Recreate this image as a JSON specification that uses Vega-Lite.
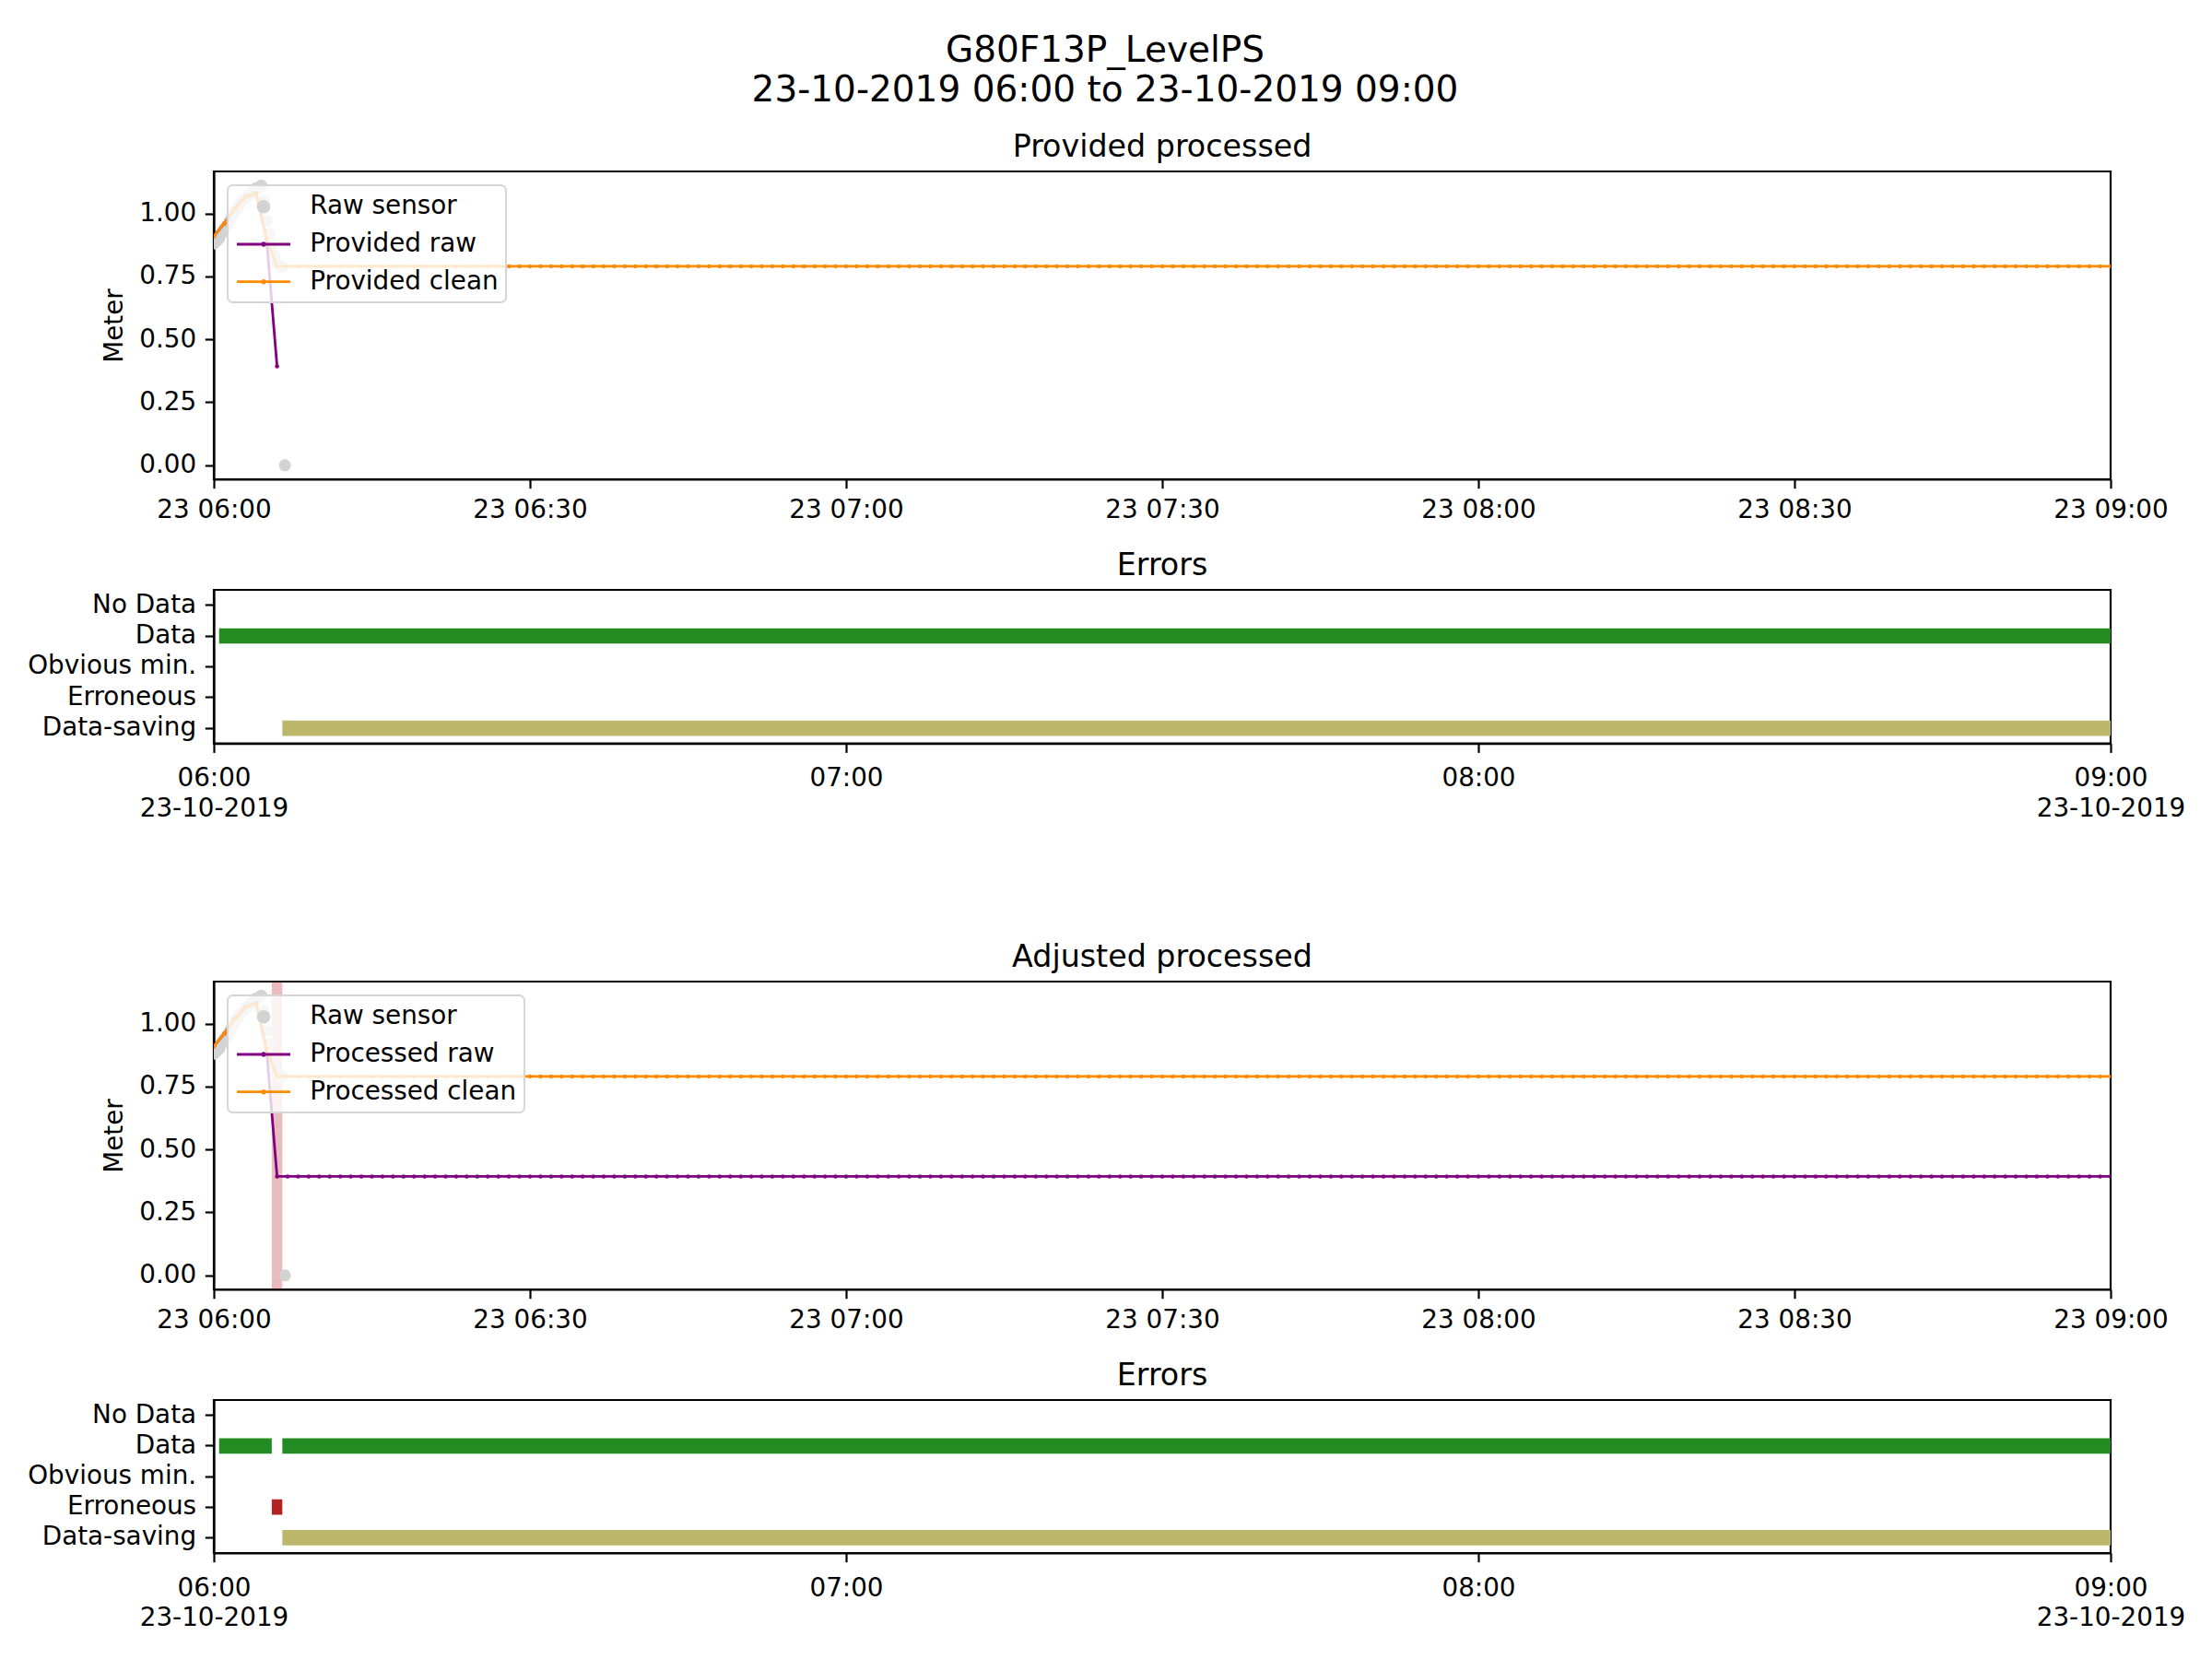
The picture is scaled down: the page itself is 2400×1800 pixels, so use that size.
{
"$schema": "https://vega.github.io/schema/vega-lite/v6.json",
"background": "white",
"padding": {"left": 28, "top": 36, "right": 30, "bottom": 20},
"bounds": "flush",
"spacing": 120,
"title": {"text": ["G80F13P_LevelPS", "23-10-2019 06:00 to 23-10-2019 09:00"], "fontSize": 39, "fontWeight": "normal", "lineHeight": 42.8, "anchor": "middle", "frame": "group", "baseline": "alphabetic", "offset": -7.6, "dx": -62, "color": "black"},
"resolve": {"scale": {"x": "independent", "y": "independent", "color": "independent", "shape": "independent"}, "legend": {"color": "independent", "shape": "independent"}},
"datasets": {
"legend_keys": [],
"raw_sensor": [
{"t":"2019-10-23T06:00:00","v":0.88},{"t":"2019-10-23T06:00:15","v":0.89},{"t":"2019-10-23T06:00:30","v":0.9},{"t":"2019-10-23T06:00:45","v":0.92},
{"t":"2019-10-23T06:01:00","v":0.94},{"t":"2019-10-23T06:01:15","v":0.95},{"t":"2019-10-23T06:01:30","v":0.97},{"t":"2019-10-23T06:01:45","v":0.99},
{"t":"2019-10-23T06:02:00","v":1.01},{"t":"2019-10-23T06:02:15","v":1.02},{"t":"2019-10-23T06:02:30","v":1.04},{"t":"2019-10-23T06:02:45","v":1.05},
{"t":"2019-10-23T06:03:00","v":1.06},{"t":"2019-10-23T06:03:15","v":1.07},{"t":"2019-10-23T06:03:30","v":1.08},{"t":"2019-10-23T06:03:45","v":1.09},
{"t":"2019-10-23T06:04:00","v":1.1},{"t":"2019-10-23T06:04:15","v":1.1},{"t":"2019-10-23T06:04:30","v":1.111},{"t":"2019-10-23T06:04:45","v":1.05},
{"t":"2019-10-23T06:05:00","v":0.97},{"t":"2019-10-23T06:05:15","v":0.92},{"t":"2019-10-23T06:05:30","v":0.87},{"t":"2019-10-23T06:05:45","v":0.83},
{"t":"2019-10-23T06:06:00","v":0.8},{"t":"2019-10-23T06:06:15","v":0.79},{"t":"2019-10-23T06:06:30","v":0.79},{"t":"2019-10-23T06:06:45","v":0.0}
],
"provided_raw": [
{"t":"2019-10-23T06:00","v":0.91},{"t":"2019-10-23T06:01","v":0.96},{"t":"2019-10-23T06:02","v":1.02},{"t":"2019-10-23T06:03","v":1.065},{"t":"2019-10-23T06:04","v":1.08},{"t":"2019-10-23T06:05","v":0.9},{"t":"2019-10-23T06:06","v":0.393}
],
"clean": [
{"t":"2019-10-23T06:00","v":0.91},{"t":"2019-10-23T06:01","v":0.96},{"t":"2019-10-23T06:02","v":1.02},{"t":"2019-10-23T06:03","v":1.065},{"t":"2019-10-23T06:04","v":1.08},{"t":"2019-10-23T06:05","v":0.9},
{"t":"2019-10-23T06:06","v":0.79},{"t":"2019-10-23T06:07","v":0.79},{"t":"2019-10-23T06:08","v":0.79},{"t":"2019-10-23T06:09","v":0.79},
{"t":"2019-10-23T06:10","v":0.79},{"t":"2019-10-23T06:11","v":0.79},{"t":"2019-10-23T06:12","v":0.79},{"t":"2019-10-23T06:13","v":0.79},{"t":"2019-10-23T06:14","v":0.79},{"t":"2019-10-23T06:15","v":0.79},{"t":"2019-10-23T06:16","v":0.79},{"t":"2019-10-23T06:17","v":0.79},{"t":"2019-10-23T06:18","v":0.79},{"t":"2019-10-23T06:19","v":0.79},
{"t":"2019-10-23T06:20","v":0.79},{"t":"2019-10-23T06:21","v":0.79},{"t":"2019-10-23T06:22","v":0.79},{"t":"2019-10-23T06:23","v":0.79},{"t":"2019-10-23T06:24","v":0.79},{"t":"2019-10-23T06:25","v":0.79},{"t":"2019-10-23T06:26","v":0.79},{"t":"2019-10-23T06:27","v":0.79},{"t":"2019-10-23T06:28","v":0.79},{"t":"2019-10-23T06:29","v":0.79},
{"t":"2019-10-23T06:30","v":0.79},{"t":"2019-10-23T06:31","v":0.79},{"t":"2019-10-23T06:32","v":0.79},{"t":"2019-10-23T06:33","v":0.79},{"t":"2019-10-23T06:34","v":0.79},{"t":"2019-10-23T06:35","v":0.79},{"t":"2019-10-23T06:36","v":0.79},{"t":"2019-10-23T06:37","v":0.79},{"t":"2019-10-23T06:38","v":0.79},{"t":"2019-10-23T06:39","v":0.79},
{"t":"2019-10-23T06:40","v":0.79},{"t":"2019-10-23T06:41","v":0.79},{"t":"2019-10-23T06:42","v":0.79},{"t":"2019-10-23T06:43","v":0.79},{"t":"2019-10-23T06:44","v":0.79},{"t":"2019-10-23T06:45","v":0.79},{"t":"2019-10-23T06:46","v":0.79},{"t":"2019-10-23T06:47","v":0.79},{"t":"2019-10-23T06:48","v":0.79},{"t":"2019-10-23T06:49","v":0.79},
{"t":"2019-10-23T06:50","v":0.79},{"t":"2019-10-23T06:51","v":0.79},{"t":"2019-10-23T06:52","v":0.79},{"t":"2019-10-23T06:53","v":0.79},{"t":"2019-10-23T06:54","v":0.79},{"t":"2019-10-23T06:55","v":0.79},{"t":"2019-10-23T06:56","v":0.79},{"t":"2019-10-23T06:57","v":0.79},{"t":"2019-10-23T06:58","v":0.79},{"t":"2019-10-23T06:59","v":0.79},
{"t":"2019-10-23T07:00","v":0.79},{"t":"2019-10-23T07:01","v":0.79},{"t":"2019-10-23T07:02","v":0.79},{"t":"2019-10-23T07:03","v":0.79},{"t":"2019-10-23T07:04","v":0.79},{"t":"2019-10-23T07:05","v":0.79},{"t":"2019-10-23T07:06","v":0.79},{"t":"2019-10-23T07:07","v":0.79},{"t":"2019-10-23T07:08","v":0.79},{"t":"2019-10-23T07:09","v":0.79},
{"t":"2019-10-23T07:10","v":0.79},{"t":"2019-10-23T07:11","v":0.79},{"t":"2019-10-23T07:12","v":0.79},{"t":"2019-10-23T07:13","v":0.79},{"t":"2019-10-23T07:14","v":0.79},{"t":"2019-10-23T07:15","v":0.79},{"t":"2019-10-23T07:16","v":0.79},{"t":"2019-10-23T07:17","v":0.79},{"t":"2019-10-23T07:18","v":0.79},{"t":"2019-10-23T07:19","v":0.79},
{"t":"2019-10-23T07:20","v":0.79},{"t":"2019-10-23T07:21","v":0.79},{"t":"2019-10-23T07:22","v":0.79},{"t":"2019-10-23T07:23","v":0.79},{"t":"2019-10-23T07:24","v":0.79},{"t":"2019-10-23T07:25","v":0.79},{"t":"2019-10-23T07:26","v":0.79},{"t":"2019-10-23T07:27","v":0.79},{"t":"2019-10-23T07:28","v":0.79},{"t":"2019-10-23T07:29","v":0.79},
{"t":"2019-10-23T07:30","v":0.79},{"t":"2019-10-23T07:31","v":0.79},{"t":"2019-10-23T07:32","v":0.79},{"t":"2019-10-23T07:33","v":0.79},{"t":"2019-10-23T07:34","v":0.79},{"t":"2019-10-23T07:35","v":0.79},{"t":"2019-10-23T07:36","v":0.79},{"t":"2019-10-23T07:37","v":0.79},{"t":"2019-10-23T07:38","v":0.79},{"t":"2019-10-23T07:39","v":0.79},
{"t":"2019-10-23T07:40","v":0.79},{"t":"2019-10-23T07:41","v":0.79},{"t":"2019-10-23T07:42","v":0.79},{"t":"2019-10-23T07:43","v":0.79},{"t":"2019-10-23T07:44","v":0.79},{"t":"2019-10-23T07:45","v":0.79},{"t":"2019-10-23T07:46","v":0.79},{"t":"2019-10-23T07:47","v":0.79},{"t":"2019-10-23T07:48","v":0.79},{"t":"2019-10-23T07:49","v":0.79},
{"t":"2019-10-23T07:50","v":0.79},{"t":"2019-10-23T07:51","v":0.79},{"t":"2019-10-23T07:52","v":0.79},{"t":"2019-10-23T07:53","v":0.79},{"t":"2019-10-23T07:54","v":0.79},{"t":"2019-10-23T07:55","v":0.79},{"t":"2019-10-23T07:56","v":0.79},{"t":"2019-10-23T07:57","v":0.79},{"t":"2019-10-23T07:58","v":0.79},{"t":"2019-10-23T07:59","v":0.79},
{"t":"2019-10-23T08:00","v":0.79},{"t":"2019-10-23T08:01","v":0.79},{"t":"2019-10-23T08:02","v":0.79},{"t":"2019-10-23T08:03","v":0.79},{"t":"2019-10-23T08:04","v":0.79},{"t":"2019-10-23T08:05","v":0.79},{"t":"2019-10-23T08:06","v":0.79},{"t":"2019-10-23T08:07","v":0.79},{"t":"2019-10-23T08:08","v":0.79},{"t":"2019-10-23T08:09","v":0.79},
{"t":"2019-10-23T08:10","v":0.79},{"t":"2019-10-23T08:11","v":0.79},{"t":"2019-10-23T08:12","v":0.79},{"t":"2019-10-23T08:13","v":0.79},{"t":"2019-10-23T08:14","v":0.79},{"t":"2019-10-23T08:15","v":0.79},{"t":"2019-10-23T08:16","v":0.79},{"t":"2019-10-23T08:17","v":0.79},{"t":"2019-10-23T08:18","v":0.79},{"t":"2019-10-23T08:19","v":0.79},
{"t":"2019-10-23T08:20","v":0.79},{"t":"2019-10-23T08:21","v":0.79},{"t":"2019-10-23T08:22","v":0.79},{"t":"2019-10-23T08:23","v":0.79},{"t":"2019-10-23T08:24","v":0.79},{"t":"2019-10-23T08:25","v":0.79},{"t":"2019-10-23T08:26","v":0.79},{"t":"2019-10-23T08:27","v":0.79},{"t":"2019-10-23T08:28","v":0.79},{"t":"2019-10-23T08:29","v":0.79},
{"t":"2019-10-23T08:30","v":0.79},{"t":"2019-10-23T08:31","v":0.79},{"t":"2019-10-23T08:32","v":0.79},{"t":"2019-10-23T08:33","v":0.79},{"t":"2019-10-23T08:34","v":0.79},{"t":"2019-10-23T08:35","v":0.79},{"t":"2019-10-23T08:36","v":0.79},{"t":"2019-10-23T08:37","v":0.79},{"t":"2019-10-23T08:38","v":0.79},{"t":"2019-10-23T08:39","v":0.79},
{"t":"2019-10-23T08:40","v":0.79},{"t":"2019-10-23T08:41","v":0.79},{"t":"2019-10-23T08:42","v":0.79},{"t":"2019-10-23T08:43","v":0.79},{"t":"2019-10-23T08:44","v":0.79},{"t":"2019-10-23T08:45","v":0.79},{"t":"2019-10-23T08:46","v":0.79},{"t":"2019-10-23T08:47","v":0.79},{"t":"2019-10-23T08:48","v":0.79},{"t":"2019-10-23T08:49","v":0.79},
{"t":"2019-10-23T08:50","v":0.79},{"t":"2019-10-23T08:51","v":0.79},{"t":"2019-10-23T08:52","v":0.79},{"t":"2019-10-23T08:53","v":0.79},{"t":"2019-10-23T08:54","v":0.79},{"t":"2019-10-23T08:55","v":0.79},{"t":"2019-10-23T08:56","v":0.79},{"t":"2019-10-23T08:57","v":0.79},{"t":"2019-10-23T08:58","v":0.79},{"t":"2019-10-23T08:59","v":0.79},
{"t":"2019-10-23T09:00","v":0.79}
],
"processed_raw": [
{"t":"2019-10-23T06:00","v":0.91},{"t":"2019-10-23T06:01","v":0.96},{"t":"2019-10-23T06:02","v":1.02},{"t":"2019-10-23T06:03","v":1.065},{"t":"2019-10-23T06:04","v":1.08},{"t":"2019-10-23T06:05","v":0.9},
{"t":"2019-10-23T06:06","v":0.393},{"t":"2019-10-23T06:07","v":0.393},{"t":"2019-10-23T06:08","v":0.393},{"t":"2019-10-23T06:09","v":0.393},
{"t":"2019-10-23T06:10","v":0.393},{"t":"2019-10-23T06:11","v":0.393},{"t":"2019-10-23T06:12","v":0.393},{"t":"2019-10-23T06:13","v":0.393},{"t":"2019-10-23T06:14","v":0.393},{"t":"2019-10-23T06:15","v":0.393},{"t":"2019-10-23T06:16","v":0.393},{"t":"2019-10-23T06:17","v":0.393},{"t":"2019-10-23T06:18","v":0.393},{"t":"2019-10-23T06:19","v":0.393},
{"t":"2019-10-23T06:20","v":0.393},{"t":"2019-10-23T06:21","v":0.393},{"t":"2019-10-23T06:22","v":0.393},{"t":"2019-10-23T06:23","v":0.393},{"t":"2019-10-23T06:24","v":0.393},{"t":"2019-10-23T06:25","v":0.393},{"t":"2019-10-23T06:26","v":0.393},{"t":"2019-10-23T06:27","v":0.393},{"t":"2019-10-23T06:28","v":0.393},{"t":"2019-10-23T06:29","v":0.393},
{"t":"2019-10-23T06:30","v":0.393},{"t":"2019-10-23T06:31","v":0.393},{"t":"2019-10-23T06:32","v":0.393},{"t":"2019-10-23T06:33","v":0.393},{"t":"2019-10-23T06:34","v":0.393},{"t":"2019-10-23T06:35","v":0.393},{"t":"2019-10-23T06:36","v":0.393},{"t":"2019-10-23T06:37","v":0.393},{"t":"2019-10-23T06:38","v":0.393},{"t":"2019-10-23T06:39","v":0.393},
{"t":"2019-10-23T06:40","v":0.393},{"t":"2019-10-23T06:41","v":0.393},{"t":"2019-10-23T06:42","v":0.393},{"t":"2019-10-23T06:43","v":0.393},{"t":"2019-10-23T06:44","v":0.393},{"t":"2019-10-23T06:45","v":0.393},{"t":"2019-10-23T06:46","v":0.393},{"t":"2019-10-23T06:47","v":0.393},{"t":"2019-10-23T06:48","v":0.393},{"t":"2019-10-23T06:49","v":0.393},
{"t":"2019-10-23T06:50","v":0.393},{"t":"2019-10-23T06:51","v":0.393},{"t":"2019-10-23T06:52","v":0.393},{"t":"2019-10-23T06:53","v":0.393},{"t":"2019-10-23T06:54","v":0.393},{"t":"2019-10-23T06:55","v":0.393},{"t":"2019-10-23T06:56","v":0.393},{"t":"2019-10-23T06:57","v":0.393},{"t":"2019-10-23T06:58","v":0.393},{"t":"2019-10-23T06:59","v":0.393},
{"t":"2019-10-23T07:00","v":0.393},{"t":"2019-10-23T07:01","v":0.393},{"t":"2019-10-23T07:02","v":0.393},{"t":"2019-10-23T07:03","v":0.393},{"t":"2019-10-23T07:04","v":0.393},{"t":"2019-10-23T07:05","v":0.393},{"t":"2019-10-23T07:06","v":0.393},{"t":"2019-10-23T07:07","v":0.393},{"t":"2019-10-23T07:08","v":0.393},{"t":"2019-10-23T07:09","v":0.393},
{"t":"2019-10-23T07:10","v":0.393},{"t":"2019-10-23T07:11","v":0.393},{"t":"2019-10-23T07:12","v":0.393},{"t":"2019-10-23T07:13","v":0.393},{"t":"2019-10-23T07:14","v":0.393},{"t":"2019-10-23T07:15","v":0.393},{"t":"2019-10-23T07:16","v":0.393},{"t":"2019-10-23T07:17","v":0.393},{"t":"2019-10-23T07:18","v":0.393},{"t":"2019-10-23T07:19","v":0.393},
{"t":"2019-10-23T07:20","v":0.393},{"t":"2019-10-23T07:21","v":0.393},{"t":"2019-10-23T07:22","v":0.393},{"t":"2019-10-23T07:23","v":0.393},{"t":"2019-10-23T07:24","v":0.393},{"t":"2019-10-23T07:25","v":0.393},{"t":"2019-10-23T07:26","v":0.393},{"t":"2019-10-23T07:27","v":0.393},{"t":"2019-10-23T07:28","v":0.393},{"t":"2019-10-23T07:29","v":0.393},
{"t":"2019-10-23T07:30","v":0.393},{"t":"2019-10-23T07:31","v":0.393},{"t":"2019-10-23T07:32","v":0.393},{"t":"2019-10-23T07:33","v":0.393},{"t":"2019-10-23T07:34","v":0.393},{"t":"2019-10-23T07:35","v":0.393},{"t":"2019-10-23T07:36","v":0.393},{"t":"2019-10-23T07:37","v":0.393},{"t":"2019-10-23T07:38","v":0.393},{"t":"2019-10-23T07:39","v":0.393},
{"t":"2019-10-23T07:40","v":0.393},{"t":"2019-10-23T07:41","v":0.393},{"t":"2019-10-23T07:42","v":0.393},{"t":"2019-10-23T07:43","v":0.393},{"t":"2019-10-23T07:44","v":0.393},{"t":"2019-10-23T07:45","v":0.393},{"t":"2019-10-23T07:46","v":0.393},{"t":"2019-10-23T07:47","v":0.393},{"t":"2019-10-23T07:48","v":0.393},{"t":"2019-10-23T07:49","v":0.393},
{"t":"2019-10-23T07:50","v":0.393},{"t":"2019-10-23T07:51","v":0.393},{"t":"2019-10-23T07:52","v":0.393},{"t":"2019-10-23T07:53","v":0.393},{"t":"2019-10-23T07:54","v":0.393},{"t":"2019-10-23T07:55","v":0.393},{"t":"2019-10-23T07:56","v":0.393},{"t":"2019-10-23T07:57","v":0.393},{"t":"2019-10-23T07:58","v":0.393},{"t":"2019-10-23T07:59","v":0.393},
{"t":"2019-10-23T08:00","v":0.393},{"t":"2019-10-23T08:01","v":0.393},{"t":"2019-10-23T08:02","v":0.393},{"t":"2019-10-23T08:03","v":0.393},{"t":"2019-10-23T08:04","v":0.393},{"t":"2019-10-23T08:05","v":0.393},{"t":"2019-10-23T08:06","v":0.393},{"t":"2019-10-23T08:07","v":0.393},{"t":"2019-10-23T08:08","v":0.393},{"t":"2019-10-23T08:09","v":0.393},
{"t":"2019-10-23T08:10","v":0.393},{"t":"2019-10-23T08:11","v":0.393},{"t":"2019-10-23T08:12","v":0.393},{"t":"2019-10-23T08:13","v":0.393},{"t":"2019-10-23T08:14","v":0.393},{"t":"2019-10-23T08:15","v":0.393},{"t":"2019-10-23T08:16","v":0.393},{"t":"2019-10-23T08:17","v":0.393},{"t":"2019-10-23T08:18","v":0.393},{"t":"2019-10-23T08:19","v":0.393},
{"t":"2019-10-23T08:20","v":0.393},{"t":"2019-10-23T08:21","v":0.393},{"t":"2019-10-23T08:22","v":0.393},{"t":"2019-10-23T08:23","v":0.393},{"t":"2019-10-23T08:24","v":0.393},{"t":"2019-10-23T08:25","v":0.393},{"t":"2019-10-23T08:26","v":0.393},{"t":"2019-10-23T08:27","v":0.393},{"t":"2019-10-23T08:28","v":0.393},{"t":"2019-10-23T08:29","v":0.393},
{"t":"2019-10-23T08:30","v":0.393},{"t":"2019-10-23T08:31","v":0.393},{"t":"2019-10-23T08:32","v":0.393},{"t":"2019-10-23T08:33","v":0.393},{"t":"2019-10-23T08:34","v":0.393},{"t":"2019-10-23T08:35","v":0.393},{"t":"2019-10-23T08:36","v":0.393},{"t":"2019-10-23T08:37","v":0.393},{"t":"2019-10-23T08:38","v":0.393},{"t":"2019-10-23T08:39","v":0.393},
{"t":"2019-10-23T08:40","v":0.393},{"t":"2019-10-23T08:41","v":0.393},{"t":"2019-10-23T08:42","v":0.393},{"t":"2019-10-23T08:43","v":0.393},{"t":"2019-10-23T08:44","v":0.393},{"t":"2019-10-23T08:45","v":0.393},{"t":"2019-10-23T08:46","v":0.393},{"t":"2019-10-23T08:47","v":0.393},{"t":"2019-10-23T08:48","v":0.393},{"t":"2019-10-23T08:49","v":0.393},
{"t":"2019-10-23T08:50","v":0.393},{"t":"2019-10-23T08:51","v":0.393},{"t":"2019-10-23T08:52","v":0.393},{"t":"2019-10-23T08:53","v":0.393},{"t":"2019-10-23T08:54","v":0.393},{"t":"2019-10-23T08:55","v":0.393},{"t":"2019-10-23T08:56","v":0.393},{"t":"2019-10-23T08:57","v":0.393},{"t":"2019-10-23T08:58","v":0.393},{"t":"2019-10-23T08:59","v":0.393},
{"t":"2019-10-23T09:00","v":0.393}
],
"errors_provided": [
{"start":"2019-10-23T06:00:30","end":"2019-10-23T09:00:00","flag":"Data"},
{"start":"2019-10-23T06:06:30","end":"2019-10-23T09:00:00","flag":"Data-saving"}
],
"errors_adjusted": [
{"start":"2019-10-23T06:00:30","end":"2019-10-23T06:05:30","flag":"Data"},
{"start":"2019-10-23T06:05:30","end":"2019-10-23T06:06:30","flag":"Erroneous"},
{"start":"2019-10-23T06:06:30","end":"2019-10-23T09:00:00","flag":"Data"},
{"start":"2019-10-23T06:06:30","end":"2019-10-23T09:00:00","flag":"Data-saving"}
],
"span": [
{"start":"2019-10-23T06:05:30","end":"2019-10-23T06:06:30"}
]
},
"vconcat": [
{
"width": 2058, "height": 334,
"title": {"text": "Provided processed"},
"layer": [
{"data": {"name": "raw_sensor"},
 "mark": {"type": "point", "filled": true, "size": 170, "opacity": 1, "clip": true},
 "encoding": {
  "x": {"field": "t", "type": "temporal", "scale": {"domain": [{"year":2019,"month":10,"date":23,"hours":6},{"year":2019,"month":10,"date":23,"hours":9}], "nice": false},
        "axis": {"title": null, "values": [{"year":2019,"month":10,"date":23,"hours":6},{"year":2019,"month":10,"date":23,"hours":6,"minutes":30},{"year":2019,"month":10,"date":23,"hours":7},{"year":2019,"month":10,"date":23,"hours":7,"minutes":30},{"year":2019,"month":10,"date":23,"hours":8},{"year":2019,"month":10,"date":23,"hours":8,"minutes":30},{"year":2019,"month":10,"date":23,"hours":9}],
                 "labelExpr": "timeFormat(datum.value, '%d %H:%M')", "labelFlush": false, "labelOverlap": false}},
  "y": {"field": "v", "type": "quantitative", "scale": {"domain": [-0.0556, 1.1667], "nice": false, "zero": false},
        "axis": {"title": "Meter", "values": [0, 0.25, 0.5, 0.75, 1.0], "format": ".2f", "titlePadding": 12}},
  "color": {"datum": "Raw sensor", "type": "nominal",
            "scale": {"domain": ["Raw sensor", "Provided raw", "Provided clean"], "range": ["#d3d3d3", "#800080", "#ff8c00"]},
            "legend": {"title": null, "orient": "top-left", "offset": 15, "padding": 8.3}}
 }},
{"data": {"name": "provided_raw"},
 "mark": {"type": "line", "strokeWidth": 2.8, "clip": true, "point": {"filled": true, "size": 20, "clip": true}},
 "encoding": {"x": {"field": "t", "type": "temporal"}, "y": {"field": "v", "type": "quantitative"}, "color": {"datum": "Provided raw", "type": "nominal"}}},
{"data": {"name": "clean"},
 "mark": {"type": "line", "strokeWidth": 2.8, "clip": true, "point": {"filled": true, "size": 20, "clip": true}},
 "encoding": {"x": {"field": "t", "type": "temporal"}, "y": {"field": "v", "type": "quantitative"}, "color": {"datum": "Provided clean", "type": "nominal"}}},
{"data": {"name": "legend_keys"},
 "mark": {"type": "point", "filled": true},
 "encoding": {
  "color": {"datum": "Raw sensor", "type": "nominal"},
  "shape": {"datum": "Raw sensor", "type": "nominal",
            "scale": {"domain": ["Raw sensor", "Provided raw", "Provided clean"],
                      "range": ["M1.534,0A0.487,0.487,0,1,1,0.56,0A0.487,0.487,0,1,1,1.534,0Z", "M-0.887,-0.093H2.98V0.093H-0.887ZM1.227,0A0.18,0.18,0,1,1,0.867,0A0.18,0.18,0,1,1,1.227,0Z", "M-0.887,-0.093H2.98V0.093H-0.887ZM1.227,0A0.18,0.18,0,1,1,0.867,0A0.18,0.18,0,1,1,1.227,0Z"]},
            "legend": {"title": null, "orient": "top-left", "offset": 15, "padding": 8.3}}
 }}
]
},
{
"width": 2058, "height": 166.7,
"title": {"text": "Errors"},
"data": {"name": "errors_provided"},
"mark": {"type": "bar", "height": 16.7},
"encoding": {
 "x": {"field": "start", "type": "temporal", "scale": {"domain": [{"year":2019,"month":10,"date":23,"hours":6},{"year":2019,"month":10,"date":23,"hours":9}], "nice": false},
       "axis": {"title": null, "values": [{"year":2019,"month":10,"date":23,"hours":6},{"year":2019,"month":10,"date":23,"hours":7},{"year":2019,"month":10,"date":23,"hours":8},{"year":2019,"month":10,"date":23,"hours":9}],
                "labelExpr": "hours(datum.value) == 6 || hours(datum.value) == 9 ? [timeFormat(datum.value, '%H:%M'), timeFormat(datum.value, '%d-%m-%Y')] : timeFormat(datum.value, '%H:%M')",
                "labelLineHeight": 32.5, "labelPadding": 14.3, "labelFlush": false, "labelOverlap": false}},
 "x2": {"field": "end"},
 "y": {"field": "flag", "type": "nominal", "scale": {"domain": ["No Data", "Data", "Obvious min.", "Erroneous", "Data-saving"], "paddingInner": 0, "paddingOuter": 0}, "axis": {"title": null}},
 "color": {"field": "flag", "type": "nominal", "scale": {"domain": ["Data", "Erroneous", "Data-saving"], "range": ["#228b22", "#b22222", "#bdb76b"]}, "legend": null}
}
},
{
"width": 2058, "height": 18,
"view": {"stroke": null},
"data": {"values": []},
"mark": "point"
},
{
"width": 2058, "height": 334,
"title": {"text": "Adjusted processed"},
"layer": [
{"data": {"name": "span"},
 "mark": {"type": "rect", "color": "#b22222", "opacity": 0.3},
 "encoding": {
  "x": {"field": "start", "type": "temporal", "scale": {"domain": [{"year":2019,"month":10,"date":23,"hours":6},{"year":2019,"month":10,"date":23,"hours":9}], "nice": false},
        "axis": {"title": null, "values": [{"year":2019,"month":10,"date":23,"hours":6},{"year":2019,"month":10,"date":23,"hours":6,"minutes":30},{"year":2019,"month":10,"date":23,"hours":7},{"year":2019,"month":10,"date":23,"hours":7,"minutes":30},{"year":2019,"month":10,"date":23,"hours":8},{"year":2019,"month":10,"date":23,"hours":8,"minutes":30},{"year":2019,"month":10,"date":23,"hours":9}],
                 "labelExpr": "timeFormat(datum.value, '%d %H:%M')", "labelFlush": false, "labelOverlap": false}},
  "x2": {"field": "end"}
 }},
{"data": {"name": "raw_sensor"},
 "mark": {"type": "point", "filled": true, "size": 170, "opacity": 1, "clip": true},
 "encoding": {
  "x": {"field": "t", "type": "temporal"},
  "y": {"field": "v", "type": "quantitative", "scale": {"domain": [-0.0556, 1.1667], "nice": false, "zero": false},
        "axis": {"title": "Meter", "values": [0, 0.25, 0.5, 0.75, 1.0], "format": ".2f", "titlePadding": 12}},
  "color": {"datum": "Raw sensor", "type": "nominal",
            "scale": {"domain": ["Raw sensor", "Processed raw", "Processed clean"], "range": ["#d3d3d3", "#800080", "#ff8c00"]},
            "legend": {"title": null, "orient": "top-left", "offset": 15, "padding": 8.3}}
 }},
{"data": {"name": "processed_raw"},
 "mark": {"type": "line", "strokeWidth": 2.8, "clip": true, "point": {"filled": true, "size": 20, "clip": true}},
 "encoding": {"x": {"field": "t", "type": "temporal"}, "y": {"field": "v", "type": "quantitative"}, "color": {"datum": "Processed raw", "type": "nominal"}}},
{"data": {"name": "clean"},
 "mark": {"type": "line", "strokeWidth": 2.8, "clip": true, "point": {"filled": true, "size": 20, "clip": true}},
 "encoding": {"x": {"field": "t", "type": "temporal"}, "y": {"field": "v", "type": "quantitative"}, "color": {"datum": "Processed clean", "type": "nominal"}}},
{"data": {"name": "legend_keys"},
 "mark": {"type": "point", "filled": true},
 "encoding": {
  "color": {"datum": "Raw sensor", "type": "nominal"},
  "shape": {"datum": "Raw sensor", "type": "nominal",
            "scale": {"domain": ["Raw sensor", "Processed raw", "Processed clean"],
                      "range": ["M1.534,0A0.487,0.487,0,1,1,0.56,0A0.487,0.487,0,1,1,1.534,0Z", "M-0.887,-0.093H2.98V0.093H-0.887ZM1.227,0A0.18,0.18,0,1,1,0.867,0A0.18,0.18,0,1,1,1.227,0Z", "M-0.887,-0.093H2.98V0.093H-0.887ZM1.227,0A0.18,0.18,0,1,1,0.867,0A0.18,0.18,0,1,1,1.227,0Z"]},
            "legend": {"title": null, "orient": "top-left", "offset": 15, "padding": 8.3}}
 }}
]
},
{
"width": 2058, "height": 166,
"title": {"text": "Errors"},
"data": {"name": "errors_adjusted"},
"mark": {"type": "bar", "height": 16.7},
"encoding": {
 "x": {"field": "start", "type": "temporal", "scale": {"domain": [{"year":2019,"month":10,"date":23,"hours":6},{"year":2019,"month":10,"date":23,"hours":9}], "nice": false},
       "axis": {"title": null, "values": [{"year":2019,"month":10,"date":23,"hours":6},{"year":2019,"month":10,"date":23,"hours":7},{"year":2019,"month":10,"date":23,"hours":8},{"year":2019,"month":10,"date":23,"hours":9}],
                "labelExpr": "hours(datum.value) == 6 || hours(datum.value) == 9 ? [timeFormat(datum.value, '%H:%M'), timeFormat(datum.value, '%d-%m-%Y')] : timeFormat(datum.value, '%H:%M')",
                "labelLineHeight": 32.5, "labelPadding": 14.3, "labelFlush": false, "labelOverlap": false}},
 "x2": {"field": "end"},
 "y": {"field": "flag", "type": "nominal", "scale": {"domain": ["No Data", "Data", "Obvious min.", "Erroneous", "Data-saving"], "paddingInner": 0, "paddingOuter": 0}, "axis": {"title": null}},
 "color": {"field": "flag", "type": "nominal", "scale": {"domain": ["Data", "Erroneous", "Data-saving"], "range": ["#228b22", "#b22222", "#bdb76b"]}, "legend": null}
}
}
],
"config": {
 "font": "DejaVu Sans",
 "view": {"stroke": "black", "strokeWidth": 2.2},
 "axis": {"domainColor": "black", "domainWidth": 2.2, "tickColor": "black", "tickWidth": 2.2, "tickSize": 9.7,
          "labelFontSize": 27.8, "labelColor": "black", "labelPadding": 9.7, "labelLimit": 0, "grid": false,
          "titleFontSize": 27.8, "titleFontWeight": "normal", "titleColor": "black"},
 "legend": {"strokeWidth": 2, "fillColor": "rgba(255,255,255,0.8)", "strokeColor": "#d6d6d6", "cornerRadius": 5.5,
            "labelFontSize": 27.8, "labelColor": "black", "labelOffset": 51, "symbolSize": 900, "symbolStrokeWidth": 0, "symbolOpacity": 1,
            "rowPadding": 11.7, "labelLimit": 0},
 "title": {"fontSize": 33.3, "fontWeight": "normal", "color": "black", "offset": 9, "baseline": "alphabetic"}
}
}
